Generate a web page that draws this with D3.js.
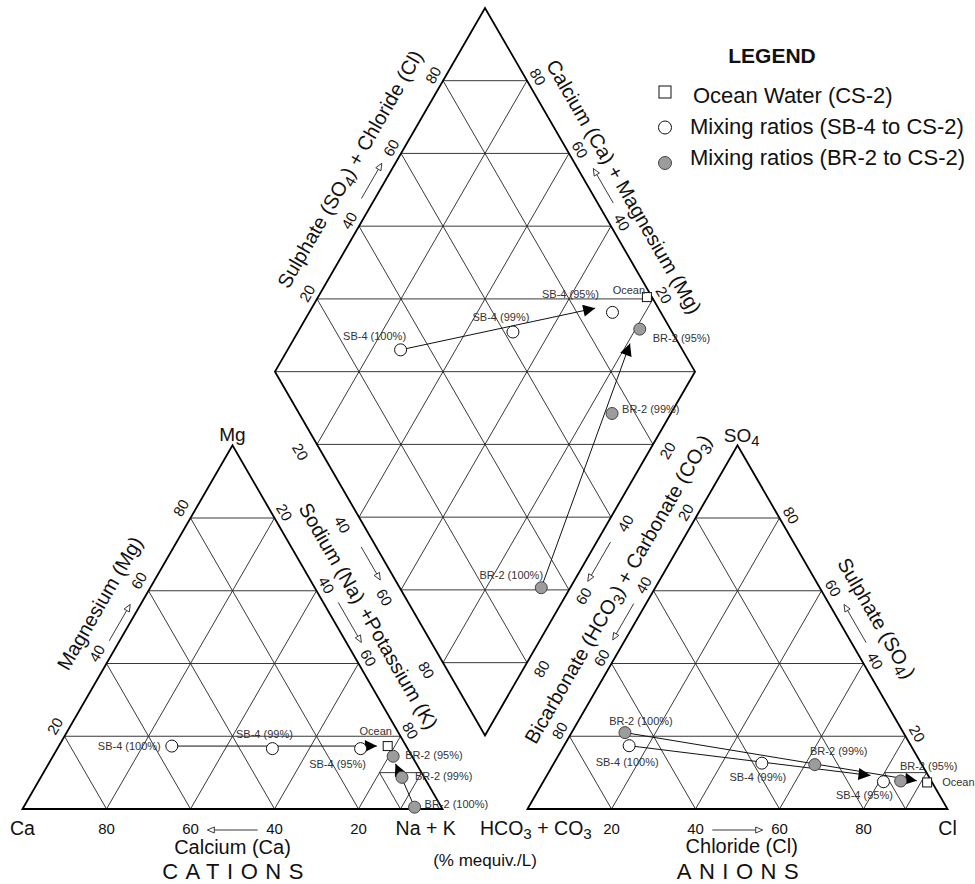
<!DOCTYPE html>
<html>
<head>
<meta charset="utf-8">
<script src="https://cdn.jsdelivr.net/npm/d3@7"></script>
<style>
  body { margin: 0; background: #fff; }
  svg text { font-family: "Liberation Sans", Arial, Helvetica, sans-serif; fill: #111; }
</style>
</head>
<body>
<svg id="chart" width="975" height="884"></svg>
<script>
// ---- Samples and mixing series ----
const samples     = ["SB-4 (100%)", "SB-4 (99%)", "SB-4 (95%)", "BR-2 (100%)", "BR-2 (99%)", "BR-2 (95%)", "Ocean"];
const sampleGroup = ["SB-4", "SB-4", "SB-4", "BR-2", "BR-2", "BR-2", "Ocean"];

// Cations, % meq/L
const caPct  = [55.8, 32.2, 11.2, 6.4, 5.3, 4.5, 4.4];
const mgPct  = [17.3, 16.6, 16.6, 0.5, 8.7, 14.5, 17.3];
const nakPct = [26.9, 51.2, 72.2, 93.1, 86.0, 81.0, 78.3];

// Anions, % meq/L
const hco3Pct = [67.1, 37.9, 11.5, 66.3, 25.5, 7.3, 1.2];
const so4Pct  = [17.4, 12.6, 7.5, 21.0, 12.2, 7.7, 7.3];
const clPct   = [15.5, 49.5, 81.0, 12.7, 62.3, 85.0, 91.5];

// Mixing paths toward ocean water: how far each arrow runs (fraction of the way)
const mixSeries        = ["SB-4", "BR-2"];
const arrowReachCation = [0.95, 0.71];
const arrowReachDiamond= [0.79, 0.84];
const arrowReachAnion  = [0.81, 0.966];

const tickValues = [20, 40, 60, 80];

const legendLabels = ["Ocean Water (CS-2)", "Mixing ratios (SB-4 to CS-2)", "Mixing ratios (BR-2 to CS-2)"];
const legendShapes = ["Ocean", "SB-4", "BR-2"];

// ---- Geometry ----
const svg = d3.select("#chart");
const S = 420, H = S * Math.sqrt(3) / 2, R3 = Math.sqrt(3) / 2;
const baseY = 809, gap = 85;
const catLeft = 22.5, anLeft = catLeft + S + gap;
const midX = catLeft + S + gap / 2;
const dBottom = baseY - (gap / 2) * Math.sqrt(3);

const ty  = d3.scaleLinear().domain([0, 100]).range([baseY, baseY - H]);
const cx  = d3.scaleLinear().domain([0, 100]).range([catLeft, catLeft + S]);
const ax  = d3.scaleLinear().domain([0, 100]).range([anLeft, anLeft + S]);
const dxs = d3.scaleLinear().domain([0, 200]).range([midX - S / 2, midX + S / 2]);
const dys = d3.scaleLinear().domain([-100, 100]).range([dBottom, dBottom - 2 * H]);

const cat = (ca, mg, nak) => [cx(nak + mg / 2), ty(mg)];
const an  = (hco3, so4, cl) => [ax(cl + so4 / 2), ty(so4)];
const dia = (a, n) => [dxs(a + n), dys(a - n)];   // a = SO4+Cl, n = Na+K

const line = d3.line();

// ---- Grid ----
const gGrid = svg.append("g").attr("fill", "none").attr("stroke", "#222").attr("stroke-width", 0.9);

function triGrid(f) {
  const segs = [];
  tickValues.forEach(v => {
    segs.push([f(v, 100 - v, 0), f(v, 0, 100 - v)]);
    segs.push([f(100 - v, v, 0), f(0, v, 100 - v)]);
    segs.push([f(100 - v, 0, v), f(0, 100 - v, v)]);
  });
  // finer subdivision of the corner cell
  segs.push([f(10, 10, 80), f(0, 10, 90)]);
  segs.push([f(10, 0, 90), f(0, 10, 90)]);
  segs.push([f(10, 10, 80), f(10, 0, 90)]);
  segs.forEach(s => gGrid.append("path").attr("d", line(s)));
}
triGrid(cat);
triGrid(an);

const diaSegs = [];
tickValues.forEach(v => {
  diaSegs.push([dia(v, 0), dia(v, 100)]);
  diaSegs.push([dia(0, v), dia(100, v)]);
});
d3.range(-80, 81, 20).forEach(k => {
  diaSegs.push(k >= 0 ? [dia(k, 0), dia(100, 100 - k)] : [dia(0, -k), dia(100 + k, 100)]);
});
diaSegs.forEach(s => gGrid.append("path").attr("d", line(s)));

// ---- Outlines ----
const gOut = svg.append("g").attr("fill", "none").attr("stroke", "#000").attr("stroke-width", 1.8).attr("stroke-linejoin", "miter");
gOut.append("path").attr("d", line([cat(100, 0, 0), cat(0, 100, 0), cat(0, 0, 100)]) + "Z");
gOut.append("path").attr("d", line([an(100, 0, 0), an(0, 100, 0), an(0, 0, 100)]) + "Z");
gOut.append("path").attr("d", line([dia(0, 0), dia(100, 0), dia(100, 100), dia(0, 100)]) + "Z");

// ---- Sample positions in each field ----
const posCat = samples.map((_, i) => cat(caPct[i], mgPct[i], nakPct[i]));
const posAn  = samples.map((_, i) => an(hco3Pct[i], so4Pct[i], clPct[i]));
const posDia = samples.map((_, i) => dia(so4Pct[i] + clPct[i], nakPct[i]));

// ---- Mixing arrows ----
svg.append("defs").append("marker")
  .attr("id", "head").attr("viewBox", "0 -5 10 10").attr("refX", 10).attr("refY", 0)
  .attr("markerUnits", "userSpaceOnUse").attr("markerWidth", 13).attr("markerHeight", 12)
  .attr("orient", "auto")
  .append("path").attr("d", "M0,-5L10,0L0,5Z").attr("fill", "#000");

const gMix = svg.append("g").attr("fill", "none").attr("stroke", "#111").attr("stroke-width", 1);
function mixArrows(pos, reach) {
  const oi = sampleGroup.indexOf("Ocean");
  mixSeries.forEach((s, j) => {
    const si = samples.indexOf(s + " (100%)");
    const p0 = pos[si], p1 = pos[oi], t = reach[j];
    const end = [p0[0] + t * (p1[0] - p0[0]), p0[1] + t * (p1[1] - p0[1])];
    gMix.append("path").attr("d", line([p0, end])).attr("marker-end", "url(#head)");
  });
}
mixArrows(posCat, arrowReachCation);
mixArrows(posDia, arrowReachDiamond);
mixArrows(posAn, arrowReachAnion);

// ---- Markers ----
const gPts = svg.append("g");
function drawMarker(g, group, p, big) {
  if (group === "Ocean") {
    const s = big ? 12 : 9;
    g.append("rect").attr("x", p[0] - s / 2).attr("y", p[1] - s / 2).attr("width", s).attr("height", s)
      .attr("fill", "#fff").attr("stroke", "#111").attr("stroke-width", 1);
  } else {
    g.append("circle").attr("cx", p[0]).attr("cy", p[1]).attr("r", big ? 6.5 : 6)
      .attr("fill", group === "BR-2" ? "#9c9c9c" : "#fff")
      .attr("stroke", group === "BR-2" ? "#444" : "#111").attr("stroke-width", 1);
  }
}
[posCat, posDia, posAn].forEach(pos => pos.forEach((p, i) => drawMarker(gPts, sampleGroup[i], p, false)));

// ---- Point labels: offset from the marker and anchor ----
const labelPlacement = {
  cation:  [[-11, 0, "end"], [-8, -15, "middle"], [-23, 15, "middle"], [10, -3, "start"], [13, -1, "start"], [12, -1, "start"], [-12, -15, "middle"]],
  diamond: [[-26, -14, "middle"], [-12, -15, "middle"], [-42, -18, "middle"], [-30, -13, "middle"], [10, -4, "start"], [13, 9, "start"], [-18, -7, "middle"]],
  anion:   [[-2, 16, "middle"], [-4, 14, "middle"], [-19, 13, "middle"], [16, -12, "middle"], [24, -14, "middle"], [28, -15, "middle"], [15, 0, "start"]]
};
const gLab = svg.append("g").attr("font-size", 11);
function drawLabels(pos, place) {
  pos.forEach((p, i) => {
    const [ox, oy, anchor] = place[i];
    gLab.append("text").attr("x", p[0] + ox).attr("y", p[1] + oy)
      .attr("text-anchor", anchor).attr("dominant-baseline", "central")
      .style("fill", "#333").text(samples[i]);
  });
}
drawLabels(posCat, labelPlacement.cation);
drawLabels(posDia, labelPlacement.diamond);
drawLabels(posAn, labelPlacement.anion);

// ---- Edge axes (ticks, titles, direction arrows) ----
function edge(P0, P1, nrm, rot) {
  const len = Math.hypot(P1[0] - P0[0], P1[1] - P0[1]);
  const u = [(P1[0] - P0[0]) / len, (P1[1] - P0[1]) / len];
  return {
    rot,
    at(v, dist, along) {
      const t = v / 100;
      return [P0[0] + t * (P1[0] - P0[0]) + nrm[0] * dist + u[0] * along,
              P0[1] + t * (P1[1] - P0[1]) + nrm[1] * dist + u[1] * along];
    }
  };
}
const NL = [-R3, -0.5], NR = [R3, -0.5], NLB = [-R3, 0.5], NRB = [R3, 0.5];
const edges = {
  mg:    edge(cat(100, 0, 0), cat(0, 100, 0), NL, -60),
  nak:   edge(cat(0, 100, 0), cat(0, 0, 100), NR, 60),
  hco3:  edge(an(0, 100, 0), an(100, 0, 0), NL, -60),
  so4:   edge(an(0, 0, 100), an(0, 100, 0), NR, 60),
  so4cl: edge(dia(0, 0), dia(100, 0), NL, -60),
  camg:  edge(dia(100, 100), dia(100, 0), NR, 60),
  nakD:  edge(dia(0, 0), dia(0, 100), NLB, 60),
  hco3D: edge(dia(100, 100), dia(0, 100), NRB, -60)
};

const gAx = svg.append("g");

function richText(g, p, rot, parts, size, anchor) {
  const t = g.append("text")
    .attr("transform", `translate(${p[0]},${p[1]}) rotate(${rot})`)
    .attr("text-anchor", anchor || "middle").attr("dominant-baseline", "central")
    .attr("font-size", size);
  let shifted = false;
  parts.forEach(part => {
    const o = typeof part === "string" ? { t: part } : part;
    const ts = t.append("tspan").text(o.t);
    if (o.sub) { ts.attr("font-size", size * 0.78).attr("dy", size * 0.28); shifted = true; }
    else if (shifted) { ts.attr("dy", -size * 0.28); shifted = false; }
    if (o.dx) ts.attr("dx", o.dx);
  });
  return t;
}

function smallArrow(g, p0, p1) {
  const len = Math.hypot(p1[0] - p0[0], p1[1] - p0[1]);
  const u = [(p1[0] - p0[0]) / len, (p1[1] - p0[1]) / len], w = [-u[1], u[0]];
  const b = [p1[0] - 7 * u[0], p1[1] - 7 * u[1]];
  g.append("path").attr("d", line([p0, b])).attr("stroke", "#222").attr("stroke-width", 0.9).attr("fill", "none");
  g.append("path")
    .attr("d", line([p1, [b[0] + 3 * w[0], b[1] + 3 * w[1]], [b[0] - 3 * w[0], b[1] - 3 * w[1]]]) + "Z")
    .attr("fill", "#fff").attr("stroke", "#222").attr("stroke-width", 0.9);
}

const axisSpecs = [
  { e: "mg",    tick: [14, 4],     title: [51.6, 36.0], arrow: [45, 55, 9],
    text: ["Magnesium (Mg)"] },
  { e: "nak",   tick: [12, 0],     title: [51.4, 32.4], arrow: [45, 56, 13],
    text: ["Sodium (Na)", { t: "+Potassium (K)", dx: 8 }] },
  { e: "hco3",  tick: [12, 0],     title: [43.9, 31.6], arrow: [45, 55, 10.7],
    text: ["Bicarbonate (HCO", { t: "3", sub: true }, ") + Carbonate (CO", { t: "3", sub: true }, ")"] },
  { e: "so4",   tick: [12, -3.5],  title: [47.8, 34.2], arrow: [44, 54.5, 12.7],
    text: ["Sulphate (SO", { t: "4", sub: true }, ")"] },
  { e: "so4cl", tick: [12, 0],     title: [50.7, 36.4], arrow: [46, 55.7, 11.7],
    text: ["Sulphate (SO", { t: "4", sub: true }, ") + Chloride (Cl)"] },
  { e: "camg",  tick: [12, -2.2],  title: [46.6, 31.0], arrow: [44.5, 54, 13.5],
    text: ["Calcium (Ca) + Magnesium (Mg)"] },
  { e: "nakD",  tick: [17.5, -2],  title: null,         arrow: [46.4, 55.5, 13] },
  { e: "hco3D", tick: [15, -2],    title: null,         arrow: [45.2, 56, 12] }
];

axisSpecs.forEach(spec => {
  const e = edges[spec.e];
  tickValues.forEach(v => {
    const p = e.at(v, spec.tick[0], spec.tick[1]);
    richText(gAx, p, e.rot, [String(v)], 15);
  });
  if (spec.title) richText(gAx, e.at(spec.title[0], spec.title[1], 0), e.rot, spec.text, 20);
  const [a0, a1, d] = spec.arrow;
  smallArrow(gAx, e.at(a0, d, 0), e.at(a1, d, 0));
});

// ---- Bottom axes ----
const tickY = baseY + 19;
tickValues.forEach(v => {
  gAx.append("text").attr("x", cx(100 - v)).attr("y", tickY).attr("text-anchor", "middle")
    .attr("dominant-baseline", "central").attr("font-size", 15).text(v);
  gAx.append("text").attr("x", ax(v)).attr("y", tickY).attr("text-anchor", "middle")
    .attr("dominant-baseline", "central").attr("font-size", 15).text(v);
});
smallArrow(gAx, [cx(100 - 44), tickY + 2], [cx(100 - 56), tickY + 2]);   // Ca increases to the left
smallArrow(gAx, [ax(44), tickY + 2], [ax(56), tickY + 2]);               // Cl increases to the right

richText(gAx, [cx(50), baseY + 38], 0, ["Calcium (Ca)"], 20);
richText(gAx, [ax(51), baseY + 37], 0, ["Chloride (Cl)"], 20);

// corner labels
richText(gAx, [cx(0), tickY], 0, ["Ca"], 19.5);
richText(gAx, [cx(96), tickY], 0, ["Na + K"], 19.5);
richText(gAx, [ax(2), tickY], 0, ["HCO", { t: "3", sub: true }, " + CO", { t: "3", sub: true }], 19.5);
richText(gAx, [ax(100), tickY], 0, ["Cl"], 19.5);
richText(gAx, [cx(50), ty(100) - 11], 0, ["Mg"], 19);
richText(gAx, [ax(51), ty(100) - 10], 0, ["SO", { t: "4", sub: true }], 19);

// group captions
gAx.append("text").attr("x", cx(50) + 4).attr("y", baseY + 62).attr("text-anchor", "middle")
  .attr("dominant-baseline", "central").attr("font-size", 22).attr("letter-spacing", 7.5).text("CATIONS");
gAx.append("text").attr("x", ax(50) + 4).attr("y", baseY + 62).attr("text-anchor", "middle")
  .attr("dominant-baseline", "central").attr("font-size", 22).attr("letter-spacing", 7.5).text("ANIONS");
gAx.append("text").attr("x", midX).attr("y", baseY + 51).attr("text-anchor", "middle")
  .attr("dominant-baseline", "central").attr("font-size", 17).text("(% mequiv./L)");

// ---- Legend ----
const gLeg = svg.append("g");
gLeg.append("text").attr("x", 772).attr("y", 55).attr("text-anchor", "middle")
  .attr("dominant-baseline", "central").attr("font-size", 21).attr("font-weight", "bold").text("LEGEND");
legendLabels.forEach((lab, i) => {
  drawMarker(gLeg, legendShapes[i], [665, 92 + i * 35.5], true);
  gLeg.append("text").attr("x", i === 0 ? 693 : 690).attr("y", 95 + i * 31)
    .attr("dominant-baseline", "central").attr("font-size", 22).text(lab);
});
</script>
</body>
</html>
